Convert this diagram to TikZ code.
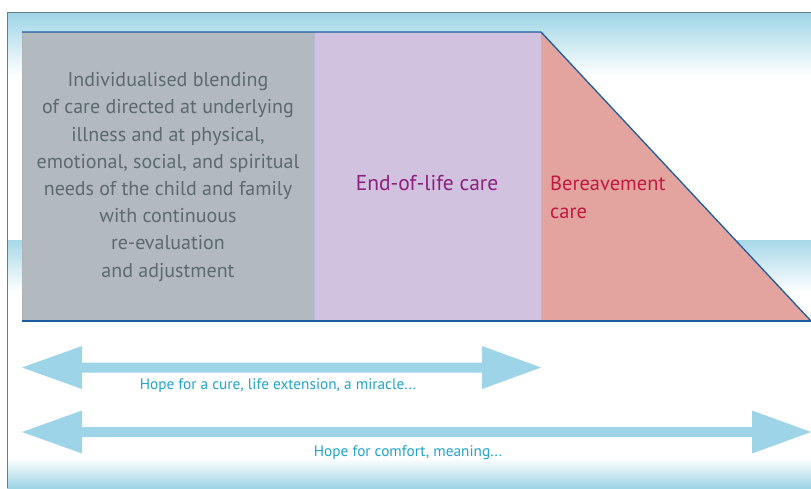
\documentclass[tikz,border=0pt]{standalone}
\usepackage{fontspec}
\setmainfont{PT Sans}
\definecolor{skyb}{HTML}{9DD4E6}
\definecolor{arrowb}{HTML}{9DD4E8}
\definecolor{grayp}{HTML}{B2B9BF}
\definecolor{purp}{HTML}{D1C3DF}
\definecolor{pinkp}{HTML}{E3A4A0}
\definecolor{edgeb}{HTML}{1B5C9E}
\definecolor{framec}{HTML}{62808A}
\definecolor{graytxt}{HTML}{5B6A70}
\definecolor{purtxt}{HTML}{8E1F7E}
\definecolor{redtxt}{HTML}{C2173F}
\definecolor{hopetxt}{HTML}{22A3C9}
\tikzset{
  paneltext/.style={font=\fontsize{20}{27.2}\selectfont, align=center, inner sep=0pt},
  hopelabel/.style={font=\fontsize{15.3}{17}\selectfont, text=hopetxt, inner sep=0pt},
  blockarrow/.style={fill=arrowb, draw=none}
}
\begin{document}
\begin{tikzpicture}[x=1pt,y=-1pt]
\useasboundingbox (0,0) rectangle (811,488);
% background shadings
\shade[top color=skyb, bottom color=white] (7,12) rectangle (811,76);
\shade[top color=skyb!90, bottom color=white] (7,240) rectangle (811,292);
\shade[top color=white, bottom color=skyb] (7,458) rectangle (811,488);
% frame
\draw[framec, line width=0.8pt] (7,488) -- (7,12) -- (811,12);
% panels
\fill[grayp] (22,32) rectangle (314,321);
\fill[purp] (314,32) rectangle (541,321);
\fill[pinkp] (541,32) -- (811,321) -- (541,321) -- cycle;
\draw[grayp!70!black!60, line width=0.5pt] (22,32) -- (22,321);
\draw[purp!70!blue!80!black!50, line width=0.4pt] (314,32) -- (314,321);
\draw[edgeb, line width=1.3pt] (22,32) -- (541,32) -- (811,321);
\draw[edgeb, line width=1.3pt] (22,321) -- (811,321);
% panel texts
\node[paneltext, text=graytxt] (t1) at (168,177) {Individualised blending\\of care directed at underlying\\illness and at physical,\\emotional, social, and spiritual\\needs of the child and family\\with continuous\\re-evaluation\\and adjustment};
\node[paneltext, text=purtxt, font=\fontsize{21.5}{27}\selectfont] (t2) at (427,183) {End-of-life care};
\node[paneltext, text=redtxt, align=left, anchor=west, font=\fontsize{20.5}{28}\selectfont] (t3) at (550,197) {Bereavement\\care};
% arrows
\fill[blockarrow] (22,367.5) -- (82,346) -- (82,362.5) -- (482,362.5) -- (482,346) -- (541,367.5) -- (482,389) -- (482,372.5) -- (82,372.5) -- (82,389) -- cycle;
\fill[blockarrow] (22,432) -- (82,410.5) -- (82,427) -- (752,427) -- (752,410.5) -- (811,432) -- (752,453.5) -- (752,437) -- (82,437) -- (82,453.5) -- cycle;
\node[hopelabel] (h1) at (278,386) {Hope for a cure, life extension, a miracle...};
\node[hopelabel] (h2) at (408,453) {Hope for comfort, meaning...};
\end{tikzpicture}
\end{document}
